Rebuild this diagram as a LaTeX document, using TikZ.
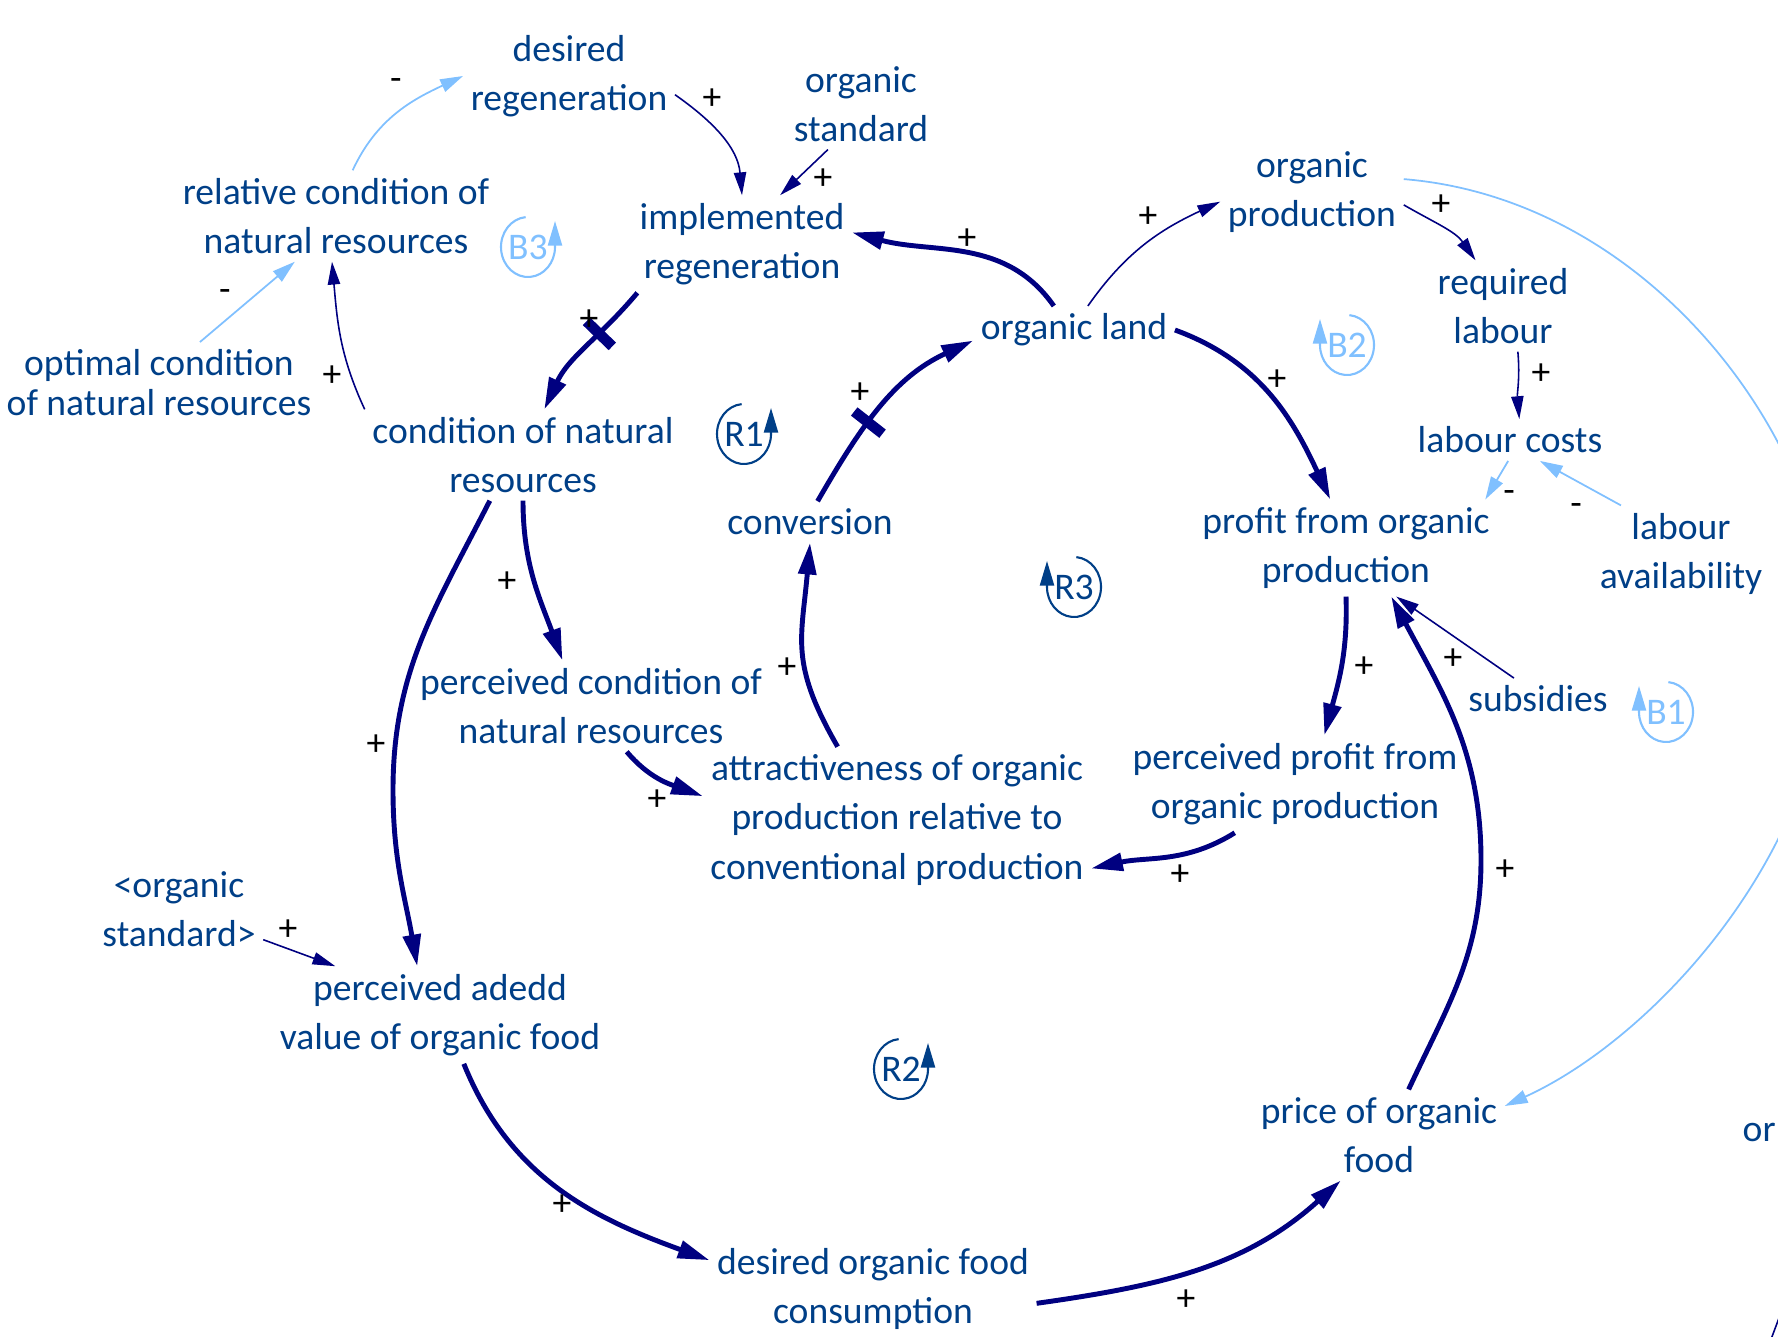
\documentclass[tikz,border=0pt]{standalone}
\usepackage{fontspec}
\setmainfont{Carlito}
\usetikzlibrary{arrows.meta}
\definecolor{txtblue}{RGB}{0,63,135}
\definecolor{linknavy}{RGB}{0,0,128}
\definecolor{loopblue}{RGB}{128,192,255}

\begin{document}
\begin{tikzpicture}[
		varname/.style={text=txtblue, align=center, inner sep=2pt, font=\fontsize{10.7}{14.1}\selectfont},
		polsign/.style={text=black, inner sep=0pt, font=\fontsize{10.7}{12}\selectfont},
		thicklink/.style={draw=linknavy, line width=1.4pt, -{Triangle[length=9pt,width=5pt]}},
		thinlink/.style={draw=linknavy, line width=0.45pt, -{Triangle[length=6.5pt,width=3.5pt]}},
		lightlink/.style={draw=loopblue, line width=0.5pt, -{Triangle[length=6.5pt,width=3.8pt]}},
		delaybar/.style={fill=linknavy, inner sep=0pt, minimum width=3pt, minimum height=0.36cm, sloped},
		loopname/.style={inner sep=0pt, font=\fontsize{10.7}{12}\selectfont},
		looparc/.style={line width=0.6pt, -{Triangle[length=7pt,width=4pt]}}
	]
		\path[use as bounding box, clip] (0,0) rectangle (17.78,-13.36);

		\node[varname] (dreg) at (5.69,-0.76) {desired\\regeneration};
		\node[varname] (ostd) at (8.61,-1.04) {organic\\standard};
		\node[varname] (impl) at (7.42,-2.44) {implemented\\regeneration};
		\node[varname] (rcnr) at (3.36,-2.16) {relative condition of\\natural resources};
		\node[varname, font=\fontsize{10.7}{11.4}\selectfont] (ocnr) at (1.59,-3.83) {optimal condition\\of natural resources};
		\node[varname] (cnr) at (5.23,-4.55) {condition of natural\\resources};
		\node[varname] (oland) at (10.74,-3.30) {organic land};
		\node[varname] (oprod) at (13.12,-1.92) {organic\\production};
		\node[varname] (rlab) at (15.03,-3.06) {required\\labour};
		\node[varname] (lcost) at (15.10,-4.40) {labour costs};
		\node[varname] (lavail) at (16.81,-5.54) {labour\\availability};
		\node[varname] (prof) at (13.46,-5.48) {profit from organic\\production};
		\node[varname] (conv) at (8.10,-5.22) {conversion};
		\node[varname] (pcnr) at (5.91,-7.06) {perceived condition of\\natural resources};
		\node[varname] (attr) at (8.97,-8.20) {attractiveness of organic\\production relative to\\conventional production};
		\node[varname] (pprof) at (12.95,-7.84) {perceived profit from\\organic production};
		\node[varname] (subs) at (15.38,-6.99) {subsidies};
		\node[varname] (ostd2) at (1.79,-9.09) {<organic\\standard>};
		\node[varname] (pav) at (4.40,-10.15) {perceived adedd\\value of organic food};
		\node[varname] (price) at (13.79,-11.35) {price of organic\\food};
		\node[varname] (dcons) at (8.73,-12.89) {desired organic food\\consumption};
		\node[varname, anchor=west, inner sep=0pt] (orcut) at (17.42,-11.32) {or};

		\draw[lightlink] (rcnr.70) to[out=65,in=205] (dreg.west);
		\draw[thinlink] (dreg.-10) to[out=-35,in=95] (impl.north);
		\draw[thinlink] (ostd.234) -- (impl.52);
		\draw[thicklink] (oland.130) to[out=125,in=-15] (impl.6);
		\draw[thicklink] (impl.205) to[out=230,in=65] node[delaybar, pos=0.36] (dl1) {} (cnr.65);
		\draw[thinlink] (cnr.north west) to[out=115,in=-85] (rcnr.265);
		\draw[lightlink] (ocnr.45) -- (rcnr.228);
		\draw[thicklink] (cnr.south) to[out=-90,in=110] (pcnr.122);
		\draw[thicklink] (cnr.234) to[out=243,in=90] (3.93,-7.9) to[out=-90,in=100] (pav.115);
		\draw[thicklink] (pcnr.-52) to[out=-50,in=160] (attr.173);
		\draw[thicklink] (attr.129) to[out=120,in=-95,looseness=1.2] (conv.south);
		\draw[thicklink] (conv.70) to[out=60,in=205] node[delaybar, pos=0.4] (dl2) {} (oland.186);
		\draw[thinlink] (oland.60) to[out=55,in=205] (oprod.186);
		\draw[thicklink] (oland.east) to[out=-20,in=115] (prof.108);
		\draw[thinlink] (oprod.-8) to[out=-30,in=125] (rlab.121);
		\draw[thinlink] (rlab.-72) to[out=-85,in=95] (lcost.66);
		\draw[lightlink] (lcost.265) -- ([xshift=-0.12cm]prof.north east);
		\draw[lightlink] (lavail.141) -- (lcost.-35);
		\draw[thicklink] (prof.south) to[out=-88,in=75] (pprof.59);
		\draw[thicklink] (pprof.219) to[out=212,in=12] (attr.-14);
		\draw[thinlink] (subs.139) -- (prof.-44);
		\draw[thicklink] (price.57) to[out=65,in=-90] (14.81,-8.6) to[out=90,in=-62] (prof.-47);
		\draw[thinlink] (ostd2.-20) -- (pav.155);
		\draw[thicklink] (pav.-64) to[out=-68,in=160] (dcons.170);
		\draw[thicklink] (dcons.-5) to[out=8,in=222] (price.230);
		\draw[lightlink] (oprod.8) .. controls (16.6,-2.0) and (18.4,-4.6) .. (18.3,-6.5)
			.. controls (18.2,-8.6) and (16.5,-10.4) .. (price.13);
		\coordinate (cutA) at (17.70,-13.42);
		\coordinate (cutB) at (17.82,-13.10);
		\draw[linknavy, line width=0.45pt] (cutA) -- (cutB);

		\node[polsign] (s1) at (3.96,-0.85) {-};
		\node[polsign] (s2) at (7.12,-0.99) {+};
		\node[polsign] (s3) at (8.23,-1.79) {+};
		\node[polsign] (s4) at (9.67,-2.39) {+};
		\node[polsign] (s5) at (5.89,-3.20) {+};
		\node[polsign] (s6) at (3.32,-3.76) {+};
		\node[polsign] (s7) at (2.25,-2.95) {-};
		\node[polsign] (s8) at (5.07,-5.82) {+};
		\node[polsign] (s9) at (3.76,-7.45) {+};
		\node[polsign] (s10) at (6.57,-8.00) {+};
		\node[polsign] (s11) at (7.87,-6.68) {+};
		\node[polsign] (s12) at (8.60,-3.93) {+};
		\node[polsign] (s13) at (11.48,-2.17) {+};
		\node[polsign] (s14) at (12.77,-3.80) {+};
		\node[polsign] (s15) at (14.41,-2.05) {+};
		\node[polsign] (s16) at (15.41,-3.74) {+};
		\node[polsign] (s17) at (15.09,-4.96) {-};
		\node[polsign] (s18) at (15.76,-5.09) {-};
		\node[polsign] (s19) at (13.64,-6.67) {+};
		\node[polsign] (s20) at (11.80,-8.75) {+};
		\node[polsign] (s21) at (14.53,-6.59) {+};
		\node[polsign] (s22) at (15.05,-8.70) {+};
		\node[polsign] (s23) at (2.88,-9.30) {+};
		\node[polsign] (s24) at (5.62,-12.05) {+};
		\node[polsign] (s25) at (11.86,-13.00) {+};

		\node[loopname, text=loopblue] (b3) at (5.28,-2.47) {B3};
		\draw[looparc, loopblue] (b3.center) ++(95:0.27 and 0.3) arc[start angle=95, end angle=360, x radius=0.27, y radius=0.3] -- ++(0,0.26);
		\node[loopname, text=txtblue] (r1) at (7.44,-4.34) {R1};
		\draw[looparc, txtblue] (r1.center) ++(95:0.27 and 0.3) arc[start angle=95, end angle=360, x radius=0.27, y radius=0.3] -- ++(0,0.26);
		\node[loopname, text=loopblue] (b2) at (13.47,-3.45) {B2};
		\draw[looparc, loopblue] (b2.center) ++(85:0.27 and 0.3) arc[start angle=85, end angle=-180, x radius=0.27, y radius=0.3] -- ++(0,0.26);
		\node[loopname, text=txtblue] (r3) at (10.74,-5.87) {R3};
		\draw[looparc, txtblue] (r3.center) ++(85:0.27 and 0.3) arc[start angle=85, end angle=-180, x radius=0.27, y radius=0.3] -- ++(0,0.26);
		\node[loopname, text=loopblue] (b1) at (16.66,-7.12) {B1};
		\draw[looparc, loopblue] (b1.center) ++(85:0.27 and 0.3) arc[start angle=85, end angle=-180, x radius=0.27, y radius=0.3] -- ++(0,0.26);
		\node[loopname, text=txtblue] (r2) at (9.01,-10.69) {R2};
		\draw[looparc, txtblue] (r2.center) ++(95:0.27 and 0.3) arc[start angle=95, end angle=360, x radius=0.27, y radius=0.3] -- ++(0,0.26);

	\end{tikzpicture}
\end{document}
